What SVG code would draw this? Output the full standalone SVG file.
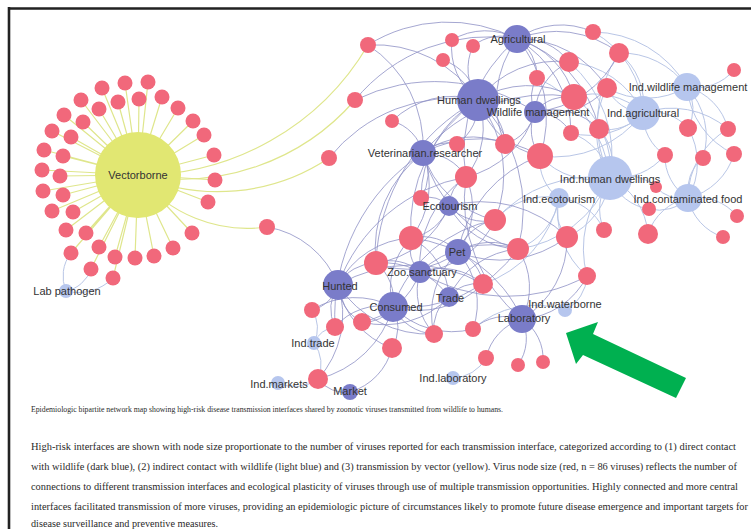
<svg xmlns="http://www.w3.org/2000/svg" width="751" height="529" viewBox="0 0 751 529">
<style>
.d{fill:#7a7cc9}
.l{fill:#b6c6ee}
.v{fill:#f1687b}
.y{fill:#e1e772}
.e{fill:none;stroke:#8e91c6;stroke-width:1;stroke-opacity:.8}
.ei{fill:none;stroke:#b9c6e6;stroke-width:1}
.ey{fill:none;stroke:#dfe68c;stroke-width:1.2}
.lb{font-family:"Liberation Sans",Arial,sans-serif;font-size:11px;fill:#333;text-anchor:middle}
.cap{font-family:"Liberation Serif","Times New Roman",serif;fill:#2a2a2a}
</style>
<rect width="751" height="529" fill="#fff"/>
<path d="M8 8.5H751M9 7V529" stroke="#222" stroke-width="2.6" fill="none"/>
<g id="connectors">
<g id="yellow-edges">
<path class="ey" d="M138 175L148 82M138 175L125 83M138 175L102 88M138 175L81 100M138 175L64 115M138 175L52 131M138 175L44 150M138 175L42 170M138 175L43 191M138 175L52 211M138 175L66 230M138 175L71 253M138 175L91 269M138 175L113 278M138 175L118 102M138 175L139 99M138 175L162 97M138 175L178 108M138 175L193 121M138 175L204 135M138 175L214 155M138 175L215 180M138 175L208 202M138 175L192 233M138 175L173 248M138 175L154 256M138 175L135 258M138 175L115 257M138 175L99 247M138 175L86 233M138 175L73 212M138 175L63 195M138 175L60 176M138 175L63 156M138 175L71 137M138 175L83 122M138 175L99 109"/>
<path class="ey" d="M138 175A264 264 0 0 0 368 45"/>
<path class="ey" d="M138 175A230 230 0 0 0 355 100"/>
<path class="ey" d="M138 175A200 200 0 0 0 329 158"/>
<path class="ey" d="M138 175A139 139 0 0 0 267 227"/>
</g>
<g id="indirect-edges">
<path class="ei" d="M66 291A38 38 0 0 1 71 253M66 291A33 33 0 0 0 91 269M66 291A49 49 0 0 0 113 278"/>
<path class="ei" d="M610 178A123 123 0 0 0 569 62M610 178A89 89 0 0 0 574 97M610 178A90 90 0 0 1 607 88M610 178A50 50 0 0 0 599 129M610 178A59 59 0 0 0 571 133M610 178A73 73 0 0 1 540 156M610 178A73 73 0 0 1 567 237M610 178A52 52 0 0 0 604 230M610 178A68 68 0 0 1 648 234M610 178A50 50 0 0 0 649 209M610 178A47 47 0 0 1 656 187M610 178A116 116 0 0 1 518 249M610 178A107 107 0 0 0 587 276M610 178A64 64 0 0 0 665 155M610 178A132 132 0 0 0 495 220M610 178A125 125 0 0 1 619 53M610 178A124 124 0 0 0 537 78"/>
<path class="ei" d="M643 113A65 65 0 0 0 619 53M643 113A95 95 0 0 0 593 32M643 113A44 44 0 0 1 607 88M643 113A71 71 0 0 0 574 97M643 113A47 47 0 0 1 599 129M643 113A47 47 0 0 1 688 128M643 113A49 49 0 0 0 665 155M643 113A87 87 0 0 1 728 129M643 113A90 90 0 0 0 569 62M643 113A111 111 0 0 1 540 156M643 113A75 75 0 0 1 571 133"/>
<path class="ei" d="M687 87A50 50 0 0 0 734 70M687 87A41 41 0 0 1 688 128M687 87A58 58 0 0 1 728 129M687 87A82 82 0 0 0 734 154M687 87A73 73 0 0 1 703 158M687 87A81 81 0 0 0 619 53M687 87A109 109 0 0 0 593 32M687 87A80 80 0 0 1 607 88"/>
<path class="ei" d="M688 198A43 43 0 0 1 703 158M688 198A64 64 0 0 0 734 154M688 198A49 49 0 0 1 665 155M688 198A52 52 0 0 1 737 216M688 198A52 52 0 0 0 723 237M688 198A41 41 0 0 1 649 209M688 198A54 54 0 0 0 648 234M688 198A34 34 0 0 1 656 187M688 198A70 70 0 0 0 688 128M688 198A80 80 0 0 1 728 129"/>
<path class="ei" d="M559 198A40 40 0 0 0 567 237M559 198A46 46 0 0 1 540 156M559 198A65 65 0 0 1 518 249M559 198A68 68 0 0 0 495 220M559 198A55 55 0 0 1 604 230M559 198A83 83 0 0 0 587 276M559 198A115 115 0 0 1 483 284"/>
<path class="ei" d="M565 310A40 40 0 0 0 587 276M565 310A94 94 0 0 0 473 329M314 343A36 36 0 0 1 318 379M314 343A33 33 0 0 0 312 310M314 343A26 26 0 0 1 335 327M278 383A40 40 0 0 0 318 379M453 378A39 39 0 0 0 486 358"/>
</g>
<g id="direct-edges">
<path class="e" d="M517 39A150 150 0 0 0 368 45M517 39A65 65 0 0 0 452 40M517 39A45 45 0 0 0 473 46M517 39A57 57 0 0 1 569 62M517 39A76 76 0 0 1 593 32M517 39A103 103 0 0 1 619 53M517 39A44 44 0 0 1 537 78M517 39A81 81 0 0 1 574 97M517 39A102 102 0 0 1 607 88M517 39A119 119 0 0 1 540 156M517 39A108 108 0 0 1 571 133M517 39A106 106 0 0 0 505 144M517 39A122 122 0 0 1 599 129M517 39A147 147 0 0 0 466 177M517 39A173 173 0 0 0 355 100"/>
<path class="e" d="M478 100A123 123 0 0 0 368 45M478 100A53 53 0 0 0 443 60M478 100A65 65 0 0 1 452 40M478 100A54 54 0 0 1 473 46M478 100A160 160 0 0 0 329 158M478 100A88 88 0 0 0 392 121M478 100A49 49 0 0 1 457 144M478 100A52 52 0 0 1 505 144M478 100A84 84 0 0 0 540 156M478 100A78 78 0 0 1 466 177M478 100A121 121 0 0 1 495 220M478 100A113 113 0 0 0 421 198M478 100A153 153 0 0 0 411 238M478 100A96 96 0 0 1 574 97M478 100A99 99 0 0 1 569 62M478 100A154 154 0 0 1 518 249M478 100A192 192 0 0 0 376 263"/>
<path class="e" d="M535 112A34 34 0 0 1 537 78M535 112A42 42 0 0 1 574 97M535 112A76 76 0 0 0 607 88M535 112A60 60 0 0 1 569 62M535 112A44 44 0 0 1 505 144M535 112A44 44 0 0 0 540 156M535 112A42 42 0 0 1 571 133M535 112A66 66 0 0 1 599 129M535 112A103 103 0 0 0 619 53M535 112A95 95 0 0 1 466 177M535 112A181 181 0 0 0 355 100"/>
<path class="e" d="M423 153A121 121 0 0 0 368 45M423 153A44 44 0 0 0 392 121M423 153A35 35 0 0 1 457 144M423 153A49 49 0 0 1 466 177M423 153A45 45 0 0 1 421 198M423 153A117 117 0 0 1 540 156M423 153A82 82 0 0 1 505 144M423 153A120 120 0 0 0 376 263M423 153A86 86 0 0 1 411 238M423 153A98 98 0 0 0 495 220M423 153A135 135 0 0 0 518 249M423 153A195 195 0 0 0 335 327M423 153A161 161 0 0 1 574 97"/>
<path class="e" d="M449 206A34 34 0 0 1 466 177M449 206A29 29 0 0 0 421 198M449 206A50 50 0 0 1 411 238M449 206A48 48 0 0 0 495 220M449 206A81 81 0 0 0 518 249M449 206A93 93 0 0 1 376 263M449 206A122 122 0 0 1 567 237"/>
<path class="e" d="M458 252A49 49 0 0 0 411 238M458 252A49 49 0 0 1 495 220M458 252A60 60 0 0 1 518 249M458 252A41 41 0 0 1 483 284M458 252A83 83 0 0 1 376 263M458 252A75 75 0 0 0 466 177M458 252A110 110 0 0 0 567 237M458 252A78 78 0 0 1 473 329M458 252A85 85 0 0 0 434 334M458 252A126 126 0 0 1 540 156"/>
<path class="e" d="M420 272A35 35 0 0 1 411 238M420 272A45 45 0 0 0 376 263M420 272A64 64 0 0 1 483 284M420 272A64 64 0 0 0 434 334M420 272A77 77 0 0 1 362 322M420 272A105 105 0 0 1 466 177M420 272A101 101 0 0 1 518 249M420 272A91 91 0 0 0 495 220M420 272A167 167 0 0 0 587 276"/>
<path class="e" d="M338 285A92 92 0 0 0 267 227M338 285A36 36 0 0 1 312 310M338 285A42 42 0 0 0 335 327M338 285A44 44 0 0 0 362 322M338 285A44 44 0 0 1 376 263M338 285A87 87 0 0 1 411 238M338 285A83 83 0 0 0 392 348M338 285A108 108 0 0 0 434 334M338 285A96 96 0 0 1 318 379M338 285A168 168 0 0 1 466 177M338 285A145 145 0 0 1 483 284"/>
<path class="e" d="M393 307A47 47 0 0 0 376 263M393 307A71 71 0 0 1 411 238M393 307A34 34 0 0 1 362 322M393 307A61 61 0 0 0 335 327M393 307A41 41 0 0 1 392 348M393 307A49 49 0 0 0 434 334M393 307A93 93 0 0 0 483 284M393 307A138 138 0 0 0 518 249M393 307A134 134 0 0 1 495 220M393 307A83 83 0 0 0 473 329M393 307A81 81 0 0 0 312 310M393 307A104 104 0 0 1 318 379"/>
<path class="e" d="M449 297A70 70 0 0 0 411 238M449 297A81 81 0 0 0 376 263M449 297A36 36 0 0 1 483 284M449 297A90 90 0 0 1 362 322M449 297A40 40 0 0 0 434 334M449 297A84 84 0 0 1 518 249"/>
<path class="e" d="M522 319A50 50 0 0 0 473 329M522 319A53 53 0 0 0 486 358M522 319A46 46 0 0 1 518 365M522 319A48 48 0 0 1 543 362M522 319A70 70 0 0 0 518 249M522 319A93 93 0 0 0 567 237M522 319A78 78 0 0 0 587 276M522 319A137 137 0 0 0 411 238M522 319A153 153 0 0 1 466 177"/>
<path class="e" d="M350 392A34 34 0 0 1 318 379M350 392A61 61 0 0 0 392 348"/>
</g>
</g>
<g id="viruses">
<g id="v-ring">
<circle class="v" cx="148" cy="82" r="7.5"/><circle class="v" cx="125" cy="83" r="7.5"/><circle class="v" cx="102" cy="88" r="7.5"/><circle class="v" cx="81" cy="100" r="7.5"/><circle class="v" cx="64" cy="115" r="7.5"/><circle class="v" cx="52" cy="131" r="7.5"/><circle class="v" cx="44" cy="150" r="7.5"/><circle class="v" cx="42" cy="170" r="7.5"/><circle class="v" cx="43" cy="191" r="7.5"/><circle class="v" cx="52" cy="211" r="7.5"/><circle class="v" cx="66" cy="230" r="7.5"/><circle class="v" cx="71" cy="253" r="7.5"/><circle class="v" cx="91" cy="269" r="7.5"/><circle class="v" cx="113" cy="278" r="7.5"/>
<circle class="v" cx="118" cy="102" r="7.5"/><circle class="v" cx="139" cy="99" r="7.5"/><circle class="v" cx="162" cy="97" r="7.5"/><circle class="v" cx="178" cy="108" r="7.5"/><circle class="v" cx="193" cy="121" r="7.5"/><circle class="v" cx="204" cy="135" r="7.5"/><circle class="v" cx="214" cy="155" r="7.5"/><circle class="v" cx="215" cy="180" r="7.5"/><circle class="v" cx="208" cy="202" r="7.5"/><circle class="v" cx="192" cy="233" r="7.5"/><circle class="v" cx="173" cy="248" r="7.5"/><circle class="v" cx="154" cy="256" r="7.5"/><circle class="v" cx="135" cy="258" r="7.5"/><circle class="v" cx="115" cy="257" r="7.5"/><circle class="v" cx="99" cy="247" r="7.5"/><circle class="v" cx="86" cy="233" r="7.5"/><circle class="v" cx="73" cy="212" r="7.5"/><circle class="v" cx="63" cy="195" r="7.5"/><circle class="v" cx="60" cy="176" r="7.5"/><circle class="v" cx="63" cy="156" r="7.5"/><circle class="v" cx="71" cy="137" r="7.5"/><circle class="v" cx="83" cy="122" r="7.5"/><circle class="v" cx="99" cy="109" r="7.5"/>
</g>
<g id="v1"><circle class="v" cx="368" cy="45" r="8"/></g>
<g id="v2"><circle class="v" cx="452" cy="40" r="7"/></g>
<g id="v3"><circle class="v" cx="473" cy="46" r="7"/></g>
<g id="v4"><circle class="v" cx="443" cy="60" r="7"/></g>
<g id="v5"><circle class="v" cx="355" cy="100" r="8"/></g>
<g id="v6"><circle class="v" cx="392" cy="121" r="7"/></g>
<g id="v7"><circle class="v" cx="329" cy="158" r="8"/></g>
<g id="v8"><circle class="v" cx="593" cy="32" r="8"/></g>
<g id="v9"><circle class="v" cx="619" cy="53" r="10"/></g>
<g id="v10"><circle class="v" cx="569" cy="62" r="10"/></g>
<g id="v11"><circle class="v" cx="537" cy="78" r="8"/></g>
<g id="v12"><circle class="v" cx="574" cy="97" r="13"/></g>
<g id="v13"><circle class="v" cx="607" cy="88" r="10"/></g>
<g id="v14"><circle class="v" cx="734" cy="70" r="7"/></g>
<g id="v15"><circle class="v" cx="571" cy="133" r="8"/></g>
<g id="v16"><circle class="v" cx="599" cy="129" r="10"/></g>
<g id="v17"><circle class="v" cx="505" cy="144" r="10"/></g>
<g id="v18"><circle class="v" cx="457" cy="144" r="8"/></g>
<g id="v19"><circle class="v" cx="540" cy="156" r="13"/></g>
<g id="v20"><circle class="v" cx="466" cy="177" r="11"/></g>
<g id="v21"><circle class="v" cx="421" cy="198" r="8"/></g>
<g id="v22"><circle class="v" cx="495" cy="220" r="11"/></g>
<g id="v23"><circle class="v" cx="688" cy="128" r="9"/></g>
<g id="v24"><circle class="v" cx="728" cy="129" r="8"/></g>
<g id="v25"><circle class="v" cx="665" cy="155" r="8"/></g>
<g id="v26"><circle class="v" cx="703" cy="158" r="8"/></g>
<g id="v27"><circle class="v" cx="734" cy="154" r="8"/></g>
<g id="v28"><circle class="v" cx="656" cy="187" r="6"/></g>
<g id="v29"><circle class="v" cx="649" cy="209" r="7"/></g>
<g id="v30"><circle class="v" cx="737" cy="216" r="7"/></g>
<g id="v31"><circle class="v" cx="518" cy="249" r="11"/></g>
<g id="v32"><circle class="v" cx="567" cy="237" r="11"/></g>
<g id="v33"><circle class="v" cx="604" cy="230" r="8"/></g>
<g id="v34"><circle class="v" cx="648" cy="234" r="10"/></g>
<g id="v35"><circle class="v" cx="723" cy="237" r="7"/></g>
<g id="v36"><circle class="v" cx="587" cy="276" r="9"/></g>
<g id="v37"><circle class="v" cx="411" cy="238" r="12"/></g>
<g id="v38"><circle class="v" cx="376" cy="263" r="12"/></g>
<g id="v39"><circle class="v" cx="483" cy="284" r="10"/></g>
<g id="v40"><circle class="v" cx="312" cy="310" r="8"/></g>
<g id="v41"><circle class="v" cx="335" cy="327" r="9"/></g>
<g id="v42"><circle class="v" cx="362" cy="322" r="9"/></g>
<g id="v43"><circle class="v" cx="434" cy="334" r="9"/></g>
<g id="v44"><circle class="v" cx="473" cy="329" r="8"/></g>
<g id="v45"><circle class="v" cx="392" cy="348" r="10"/></g>
<g id="v46"><circle class="v" cx="486" cy="358" r="8"/></g>
<g id="v47"><circle class="v" cx="518" cy="365" r="7"/></g>
<g id="v48"><circle class="v" cx="543" cy="362" r="7"/></g>
<g id="v49"><circle class="v" cx="318" cy="379" r="10"/></g>
<g id="v50"><circle class="v" cx="267" cy="227" r="8"/></g>
</g>
<g id="interfaces">
<g id="vectorborne"><circle class="y" cx="138" cy="175" r="43"/><text class="lb" x="138" y="179">Vectorborne</text></g>
<g id="lab-pathogen"><circle class="l" cx="66" cy="291" r="7"/><text class="lb" x="67" y="295">Lab pathogen</text></g>
<g id="ind-wildlife-management"><circle class="l" cx="687" cy="87" r="14"/><text class="lb" x="688" y="91">Ind.wildlife management</text></g>
<g id="ind-agricultural"><circle class="l" cx="643" cy="113" r="17"/><text class="lb" x="643" y="117">Ind.agricultural</text></g>
<g id="ind-human-dwellings"><circle class="l" cx="610" cy="178" r="22"/><text class="lb" x="610" y="183">Ind.human dwellings</text></g>
<g id="ind-ecotourism"><circle class="l" cx="559" cy="198" r="10"/><text class="lb" x="559" y="203">Ind.ecotourism</text></g>
<g id="ind-contaminated-food"><circle class="l" cx="688" cy="198" r="14"/><text class="lb" x="688" y="203">Ind.contaminated food</text></g>
<g id="ind-waterborne"><circle class="l" cx="565" cy="310" r="7"/><text class="lb" x="565" y="308">Ind.waterborne</text></g>
<g id="ind-trade"><circle class="l" cx="314" cy="343" r="7"/><text class="lb" x="313" y="347">Ind.trade</text></g>
<g id="ind-markets"><circle class="l" cx="278" cy="383" r="7"/><text class="lb" x="279" y="388">Ind.markets</text></g>
<g id="ind-laboratory"><circle class="l" cx="453" cy="378" r="7"/><text class="lb" x="453" y="382">Ind.laboratory</text></g>
<g id="agricultural"><circle class="d" cx="517" cy="39" r="14"/><text class="lb" x="518" y="43">Agricultural</text></g>
<g id="human-dwellings"><circle class="d" cx="478" cy="100" r="21"/><text class="lb" x="479" y="104">Human dwellings</text></g>
<g id="wildlife-management"><circle class="d" cx="535" cy="112" r="11"/><text class="lb" x="538" y="116">Wildlife management</text></g>
<g id="veterinarian-researcher"><circle class="d" cx="423" cy="153" r="13"/><text class="lb" x="425" y="157">Veterinarian.researcher</text></g>
<g id="ecotourism"><circle class="d" cx="449" cy="206" r="10"/><text class="lb" x="450" y="210">Ecotourism</text></g>
<g id="pet"><circle class="d" cx="458" cy="252" r="13"/><text class="lb" x="457" y="256">Pet</text></g>
<g id="zoo-sanctuary"><circle class="d" cx="420" cy="272" r="11"/><text class="lb" x="422" y="276">Zoo.sanctuary</text></g>
<g id="hunted"><circle class="d" cx="338" cy="285" r="15"/><text class="lb" x="340" y="290">Hunted</text></g>
<g id="consumed"><circle class="d" cx="393" cy="307" r="15"/><text class="lb" x="396" y="311">Consumed</text></g>
<g id="trade"><circle class="d" cx="449" cy="297" r="10"/><text class="lb" x="450" y="302">Trade</text></g>
<g id="laboratory"><circle class="d" cx="522" cy="319" r="14"/><text class="lb" x="524" y="322">Laboratory</text></g>
<g id="market"><circle class="d" cx="350" cy="392" r="8"/><text class="lb" x="350" y="395">Market</text></g>
</g>
<g id="arrow"><polygon fill="#00b050" points="566,333 598,322 593,334 686,378 676,398 583,355 576,364"/></g>
<g id="caption">
<text class="cap" x="31" y="412" font-size="8.6" textLength="472" lengthAdjust="spacingAndGlyphs">Epidemiologic bipartite network map showing high-risk disease transmission interfaces shared by zoonotic viruses transmitted from wildlife to humans.</text>
<text class="cap" x="31" y="450" font-size="10.2" textLength="705" lengthAdjust="spacingAndGlyphs">High-risk interfaces are shown with node size proportionate to the number of viruses reported for each transmission interface, categorized according to (1) direct contact</text>
<text class="cap" x="31" y="470" font-size="10.2" textLength="706" lengthAdjust="spacingAndGlyphs">with wildlife (dark blue), (2) indirect contact with wildlife (light blue) and (3) transmission by vector (yellow). Virus node size (red, n = 86 viruses) reflects the number of</text>
<text class="cap" x="31" y="490" font-size="10.2" textLength="707" lengthAdjust="spacingAndGlyphs">connections to different transmission interfaces and ecological plasticity of viruses through use of multiple transmission opportunities. Highly connected and more central</text>
<text class="cap" x="31" y="510" font-size="10.2" textLength="717" lengthAdjust="spacingAndGlyphs">interfaces facilitated transmission of more viruses, providing an epidemiologic picture of circumstances likely to promote future disease emergence and important targets for</text>
<text class="cap" x="31" y="527" font-size="10.2">disease surveillance and preventive measures.</text>
</g>
</svg>
